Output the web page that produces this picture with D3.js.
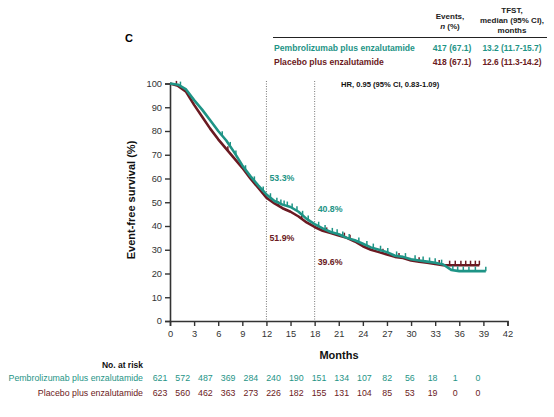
<!DOCTYPE html>
<html>
<head>
<meta charset="utf-8">
<script src="https://cdn.jsdelivr.net/npm/d3@7"></script>
<style>
  body { margin: 0; background: #fff; }
  svg { font-family: Arial, "Liberation Sans", sans-serif; }
</style>
</head>
<body>
<svg id="chart" width="554" height="417"></svg>
<script>
// KM estimates (months, % event-free)
const pembroMonths = [0,1,2,3,4,5,6,7,8,9,10,11,12,13,14,15,16,17,18,19,20,21,22,23,24,25,26,27,28,29,30,31,32,33,34,35,36,37,38,39.3];
const pembroSurv   = [100,99.5,97.5,93,89,84.5,80,76,71,65.5,61,57,53.3,50.5,49,48,46,43,40.8,39,37.5,36.5,35,34,32.5,31,30,29,27.5,27,26,25.5,25,24.5,23.8,21.5,21,21,21,21];
const placeboMonths = [0,1,2,3,4,5,6,7,8,9,10,11,12,13,14,15,16,17,18,19,20,21,22,23,24,25,26,27,28,29,30,31,32,33,34,35,36,37,38.5];
const placeboSurv   = [100,99,96.5,91,86,81,76.5,72.5,68.5,64.5,60,56,51.9,49.5,47.5,46,44,41.5,39.6,38,37,36,35,33.5,31.5,30,29,28,27,26.5,25.5,25,24.5,24,23.5,23.5,23.5,23.5,23.5];
const pembroCensor = [1.3,6.5,7.5,8.2,9.4,10.5,11.6,12.5,13.3,13.8,14.2,14.6,15.2,15.8,16.5,17.2,18.5,19.3,20.2,20.8,21.5,22.3,23.5,24.5,25.3,26.2,27.1,28.2,29.3,30.5,31.5,32.3,33,33.8,35.2,35.8,36.5,37.2,38,39.3];
const placeboCensor = [0.8,7.2,13.5,16.4,19.5,21.7,22.4,26.5,28.5,31,33.5,34.8,35.5,36.2,36.8,37.4,38,38.5];

const xTicks = d3.range(0, 43, 3);
const yTicks = d3.range(0, 101, 10);
const riskMonths = d3.range(0, 43, 3);
const pembroRisk = [621,572,487,369,284,240,190,151,134,107,82,56,18,1,0];
const placeboRisk = [623,560,462,363,273,226,182,155,131,104,85,53,19,0,0];
const landmarks = [12, 18];
const pembroLandmark = ["53.3%", "40.8%"];
const placeboLandmark = ["51.9%", "39.6%"];

const teal = "#1e9486", maroon = "#6b1a22";
const svg = d3.select("#chart");

const x = d3.scaleLinear().domain([0, 42]).range([170, 507.5]);
const y = d3.scaleLinear().domain([0, 100]).range([321, 83.5]);

// landmark dotted lines
svg.selectAll(".lm").data(landmarks).enter().append("line")
  .attr("x1", d => x(d)).attr("x2", d => x(d))
  .attr("y1", 81).attr("y2", y(0))
  .attr("stroke", "#555").attr("stroke-width", 0.8)
  .attr("stroke-dasharray", "1,1.5");

// axes
const yAxis = svg.append("g").attr("transform", `translate(${x(0)},0)`)
  .call(d3.axisLeft(y).tickValues(yTicks).tickSize(5).tickPadding(3));
const xAxis = svg.append("g").attr("transform", `translate(0,${y(0)})`)
  .call(d3.axisBottom(x).tickValues(xTicks).tickSize(5).tickPadding(4));
[yAxis, xAxis].forEach(g => {
  g.select(".domain").attr("stroke", "#333").attr("stroke-width", 1.6);
  g.selectAll(".tick line").attr("stroke", "#333").attr("stroke-width", 1.4);
  g.selectAll(".tick text").attr("fill", "#333").attr("font-size", 9.3).attr("font-family", "Arial, 'Liberation Sans', sans-serif");
});

const line = d3.line().x(d => x(d[0])).y(d => y(d[1])).curve(d3.curveLinear);
function valueAt(ms, vs, t) {
  const i = d3.bisectRight(ms, t);
  if (i <= 0) return vs[0];
  if (i >= ms.length) return vs[vs.length - 1];
  const f = (t - ms[i - 1]) / (ms[i] - ms[i - 1]);
  return vs[i - 1] + f * (vs[i] - vs[i - 1]);
}
function drawCurve(ms, vs, censor, color) {
  svg.append("path").datum(ms.map((m, i) => [m, vs[i]]))
    .attr("d", line).attr("fill", "none")
    .attr("stroke", color).attr("stroke-width", 2.6)
    .attr("stroke-linejoin", "round");
  svg.append("g").selectAll("line").data(censor).enter().append("line")
    .attr("x1", d => x(d)).attr("x2", d => x(d))
    .attr("y1", d => y(valueAt(ms, vs, d)))
    .attr("y2", d => y(valueAt(ms, vs, d)) - 4.5)
    .attr("stroke", color).attr("stroke-width", 1.5);
}
drawCurve(placeboMonths, placeboSurv, placeboCensor, maroon);
drawCurve(pembroMonths, pembroSurv, pembroCensor, teal);

// landmark labels
svg.selectAll(".pl").data(landmarks).enter().append("text")
  .attr("x", d => x(d) + 3).attr("y", (d, i) => [181, 212][i])
  .attr("fill", teal).attr("font-size", 8.8).attr("font-weight", "bold")
  .text((d, i) => pembroLandmark[i]);
svg.selectAll(".ml").data(landmarks).enter().append("text")
  .attr("x", d => x(d) + 3).attr("y", (d, i) => [241, 265][i])
  .attr("fill", maroon).attr("font-size", 8.8).attr("font-weight", "bold")
  .text((d, i) => placeboLandmark[i]);

// axis titles
svg.append("text").attr("transform", "translate(135,200) rotate(-90)")
  .attr("text-anchor", "middle").attr("font-size", 11).attr("font-weight", "bold")
  .attr("fill", "#111").text("Event-free survival (%)");
svg.append("text").attr("x", 339).attr("y", 359).attr("text-anchor", "middle")
  .attr("font-size", 11).attr("font-weight", "bold").attr("fill", "#111").text("Months");

// panel letter + HR
svg.append("text").attr("x", 125).attr("y", 42).attr("font-size", 11).attr("font-weight", "bold").text("C");
svg.append("text").attr("x", 341).attr("y", 87).attr("font-size", 7.6).attr("font-weight", "bold")
  .attr("fill", "#111").text("HR, 0.95 (95% CI, 0.83-1.09)");

// header table
const hdr = svg.append("g").attr("font-size", 8).attr("font-weight", "bold");
hdr.append("text").attr("x", 450).attr("y", 19).attr("text-anchor", "middle").attr("fill", "#222").text("Events,");
hdr.append("text").attr("x", 450).attr("y", 29).attr("text-anchor", "middle").attr("fill", "#222")
  .call(t => { t.append("tspan").attr("font-style", "italic").text("n"); t.append("tspan").text(" (%)"); });
hdr.append("text").attr("x", 512).attr("y", 13).attr("text-anchor", "middle").attr("fill", "#222").text("TFST,");
hdr.append("text").attr("x", 512).attr("y", 23).attr("text-anchor", "middle").attr("fill", "#222").text("median (95% CI),");
hdr.append("text").attr("x", 512).attr("y", 33).attr("text-anchor", "middle").attr("fill", "#222").text("months");
hdr.append("line").attr("x1", 273).attr("x2", 547).attr("y1", 37.5).attr("y2", 37.5).attr("stroke", "#222").attr("stroke-width", 1);
const rows = [
  { name: "Pembrolizumab plus enzalutamide", ev: "417 (67.1)", med: "13.2 (11.7-15.7)", color: teal, yy: 51 },
  { name: "Placebo plus enzalutamide", ev: "418 (67.1)", med: "12.6 (11.3-14.2)", color: maroon, yy: 65 }
];
rows.forEach(r => {
  hdr.append("text").attr("x", 274).attr("y", r.yy).attr("font-size", 8.6).attr("fill", r.color).text(r.name);
  hdr.append("text").attr("x", 452).attr("y", r.yy).attr("font-size", 8.5).attr("text-anchor", "middle").attr("fill", r.color).text(r.ev);
  hdr.append("text").attr("x", 512).attr("y", r.yy).attr("font-size", 8.4).attr("text-anchor", "middle").attr("fill", r.color).text(r.med);
});

// number at risk
const rx = d3.scaleLinear().domain([0, 42]).range([160, 478]);
svg.append("text").attr("x", 143).attr("y", 368).attr("text-anchor", "end")
  .attr("font-size", 8.5).attr("font-weight", "bold").attr("fill", "#111").text("No. at risk");
[
  { name: "Pembrolizumab plus enzalutamide", vals: pembroRisk, color: teal, yy: 381 },
  { name: "Placebo plus enzalutamide", vals: placeboRisk, color: maroon, yy: 396 }
].forEach(r => {
  svg.append("text").attr("x", 143).attr("y", r.yy).attr("text-anchor", "end")
    .attr("font-size", 8.8).attr("fill", r.color).text(r.name);
  svg.append("g").selectAll("text").data(r.vals).enter().append("text")
    .attr("x", (d, i) => rx(riskMonths[i])).attr("y", r.yy).attr("text-anchor", "middle")
    .attr("font-size", 8.8).attr("fill", r.color).text(d => d);
});
</script>
</body>
</html>
